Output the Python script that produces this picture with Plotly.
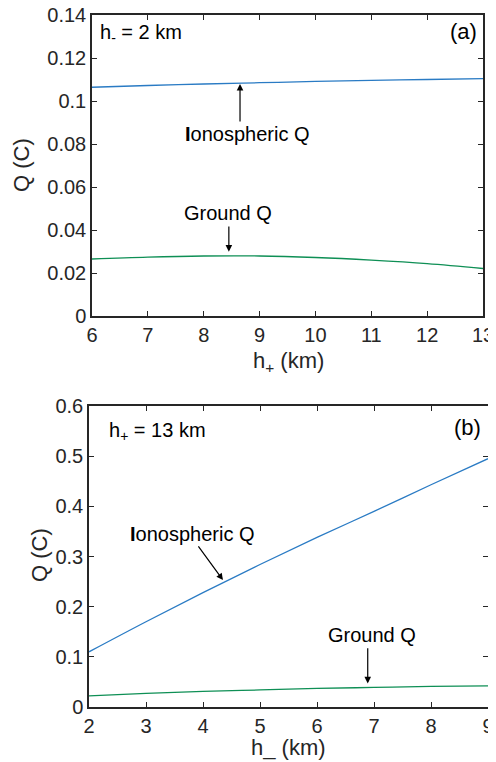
import plotly.graph_objects as go

# Panel (a): h_- = 2 km, vary h_+
h_plus = [6, 7, 8, 9, 10, 11, 12, 13]
iono_a = [0.1064, 0.1072, 0.1079, 0.1085, 0.1091, 0.1096, 0.1100, 0.1104]
ground_a = [0.0265, 0.0274, 0.0279, 0.0279, 0.0272, 0.0260, 0.0244, 0.0221]

# Panel (b): h_+ = 13 km, vary h_-
h_minus = [2, 3, 4, 5, 6, 7, 8, 9]
iono_b = [0.110, 0.170, 0.228, 0.284, 0.338, 0.390, 0.443, 0.495]
ground_b = [0.022, 0.027, 0.031, 0.034, 0.037, 0.039, 0.041, 0.042]

ticks_a_x = [6, 7, 8, 9, 10, 11, 12, 13]
ticks_a_y = [0, 0.02, 0.04, 0.06, 0.08, 0.1, 0.12, 0.14]
ticks_b_x = [2, 3, 4, 5, 6, 7, 8, 9]
ticks_b_y = [0, 0.1, 0.2, 0.3, 0.4, 0.5, 0.6]

BLUE = "#2a7bc4"
GREEN = "#0e8f55"
AX = "#262626"
FONT = "Liberation Sans, Arial, Helvetica, sans-serif"

# the page body adds an 8 px offset; build the figure in window pixels minus 8
OFF = 8
W, H = 496 - OFF, 762 - OFF

def px(p):
    return (p - OFF) / W

def py(q):
    return (H - (q - OFF)) / H

fig = go.Figure()
fig.add_trace(go.Scatter(x=h_plus, y=iono_a, mode="lines", line=dict(color=BLUE, width=1.3, shape="spline"),
                         xaxis="x", yaxis="y", showlegend=False))
fig.add_trace(go.Scatter(x=h_plus, y=ground_a, mode="lines", line=dict(color=GREEN, width=1.3, shape="spline"),
                         xaxis="x", yaxis="y", showlegend=False))
fig.add_trace(go.Scatter(x=h_minus, y=iono_b, mode="lines", line=dict(color=BLUE, width=1.3, shape="spline"),
                         xaxis="x2", yaxis="y2", showlegend=False))
fig.add_trace(go.Scatter(x=h_minus, y=ground_b, mode="lines", line=dict(color=GREEN, width=1.3, shape="spline"),
                         xaxis="x2", yaxis="y2", showlegend=False))

def axis_common():
    return dict(showline=True, linecolor=AX, linewidth=1.5, mirror="ticks", ticks="inside",
                ticklen=5, tickwidth=1, tickcolor=AX, showgrid=False, zeroline=False, automargin=False,
                ticklabeloverflow="allow",
                tickfont=dict(family=FONT, size=20, color=AX))

fig.update_layout(
    width=W, height=H,
    margin=dict(l=0, r=0, t=0, b=0, autoexpand=False),
    paper_bgcolor="white", plot_bgcolor="white",
    xaxis=dict(domain=[px(92), px(483)], range=[6, 13], tickvals=ticks_a_x, anchor="y", **axis_common()),
    yaxis=dict(domain=[py(316), py(15)], range=[0, 0.14], tickvals=ticks_a_y, anchor="x", **axis_common()),
    xaxis2=dict(domain=[px(89), px(488)], range=[2, 9], tickvals=ticks_b_x, anchor="y2", **axis_common()),
    yaxis2=dict(domain=[py(707), py(406)], range=[0, 0.6], tickvals=ticks_b_y, anchor="x2", **axis_common()),
)

txt = dict(family=FONT, size=20, color="black")
big = dict(family=FONT, size=22, color=AX)

ann = []
# panel labels
ann.append(dict(x=6.11, y=0.1312, xref="x", yref="y", text="h<sub>-</sub> = 2 km", showarrow=False,
                xanchor="left", yanchor="middle", font=txt))
ann.append(dict(x=12.93, y=0.1321, xref="x", yref="y", text="(a)", showarrow=False,
                xanchor="right", yanchor="middle", font=dict(family=FONT, size=22, color="black")))
ann.append(dict(x=2.31, y=0.550, xref="x2", yref="y2", text="h<sub>+</sub> = 13 km", showarrow=False,
                xanchor="left", yanchor="middle", font=txt))
ann.append(dict(x=8.92, y=0.558, xref="x2", yref="y2", text="(b)", showarrow=False,
                xanchor="right", yanchor="middle", font=dict(family=FONT, size=22, color="black")))

# labels with arrows, panel a
ann.append(dict(x=8.79, y=0.0847, xref="x", yref="y", text="<b>I</b>onospheric Q", showarrow=False,
                xanchor="center", yanchor="middle", font=txt))
ann.append(dict(x=8.65, y=0.1079, ax=8.65, ay=0.0898, xref="x", yref="y", axref="x", ayref="y",
                text="", showarrow=True, arrowhead=2, arrowsize=1.1, arrowwidth=1.2, arrowcolor="black"))
ann.append(dict(x=8.43, y=0.0479, xref="x", yref="y", text="Ground Q", showarrow=False,
                xanchor="center", yanchor="middle", font=txt))
ann.append(dict(x=8.45, y=0.0299, ax=8.45, ay=0.0423, xref="x", yref="y", axref="x", ayref="y",
                text="", showarrow=True, arrowhead=2, arrowsize=1.1, arrowwidth=1.2, arrowcolor="black"))

# panel b
ann.append(dict(x=3.82, y=0.345, xref="x2", yref="y2", text="<b>I</b>onospheric Q", showarrow=False,
                xanchor="center", yanchor="middle", font=txt))
ann.append(dict(x=4.35, y=0.253, ax=3.90, ay=0.323, xref="x2", yref="y2", axref="x2", ayref="y2",
                text="", showarrow=True, arrowhead=2, arrowsize=1.1, arrowwidth=1.2, arrowcolor="black"))
ann.append(dict(x=6.97, y=0.143, xref="x2", yref="y2", text="Ground Q", showarrow=False,
                xanchor="center", yanchor="middle", font=txt))
ann.append(dict(x=6.89, y=0.047, ax=6.89, ay=0.120, xref="x2", yref="y2", axref="x2", ayref="y2",
                text="", showarrow=True, arrowhead=2, arrowsize=1.1, arrowwidth=1.2, arrowcolor="black"))

# axis titles
ann.append(dict(x=px(21), y=py(165), xref="paper", yref="paper", text="Q (C)", textangle=-90,
                showarrow=False, xanchor="center", yanchor="middle", font=big))
ann.append(dict(x=px(39), y=py(555), xref="paper", yref="paper", text="Q (C)", textangle=-90,
                showarrow=False, xanchor="center", yanchor="middle", font=big))
ann.append(dict(x=px(288), y=py(362), xref="paper", yref="paper",
                text="h<sub>+</sub> (km)", showarrow=False, xanchor="center", yanchor="middle", font=big))
ann.append(dict(x=px(288), y=py(747), xref="paper", yref="paper",
                text="h_ (km)", showarrow=False, xanchor="center", yanchor="middle", font=big))

fig.update_layout(annotations=ann)
fig.write_html("out.html")
